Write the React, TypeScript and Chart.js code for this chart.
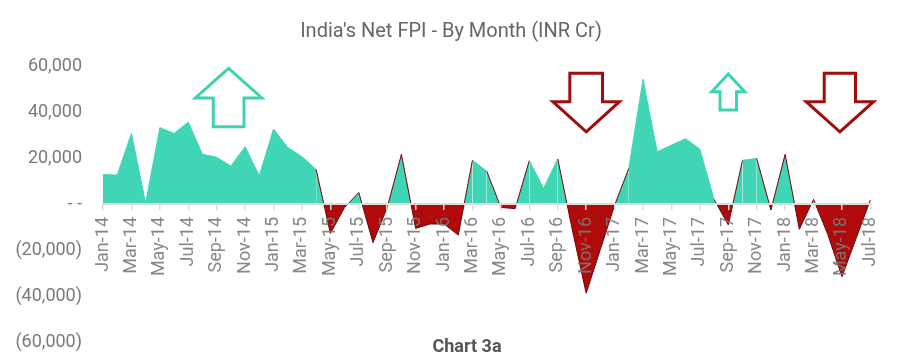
import React, { useEffect, useRef } from "react";
import { Chart, registerables } from "chart.js";

Chart.register(...registerables);

const months = [
  "Jan-14","Feb-14","Mar-14","Apr-14","May-14","Jun-14","Jul-14","Aug-14","Sep-14","Oct-14","Nov-14","Dec-14",
  "Jan-15","Feb-15","Mar-15","Apr-15","May-15","Jun-15","Jul-15","Aug-15","Sep-15","Oct-15","Nov-15","Dec-15",
  "Jan-16","Feb-16","Mar-16","Apr-16","May-16","Jun-16","Jul-16","Aug-16","Sep-16","Oct-16","Nov-16","Dec-16",
  "Jan-17","Feb-17","Mar-17","Apr-17","May-17","Jun-17","Jul-17","Aug-17","Sep-17","Oct-17","Nov-17","Dec-17",
  "Jan-18","Feb-18","Mar-18","Apr-18","May-18","Jun-18","Jul-18",
];

const netFPI = [
  12800, 12600, 30700, 300, 33200, 30700, 35600, 21600, 20300, 16500, 24900, 12300,
  32600, 24600, 20600, 15000, -12800, -1500, 5000, -16800, -1500, 21600, -10600, -8700,
  -8700, -13500, 19100, 14300, -1500, -2000, 18900, 6800, 19600, -10500, -38800, -19700,
  -500, 15500, 54200, 22700, 25600, 28400, 23800, 2000, -9100, 19000, 19800, -2600,
  21600, -11000, 2000, -13200, -31600, -14800, 1800,
];

const yTicks = [-60000, -40000, -20000, 0, 20000, 40000, 60000];

const titleText = "India's Net FPI - By Month (INR Cr)";
const captionText = "Chart 3a";

// Decorative block arrows, anchored in data space (category index / value)
const arrowCenters = [8.84, 34.0, 44.0, 51.85];
const arrowKinds = ["up", "down", "up", "down"];
const arrowTips = [59000, 31400, 56500, 31400];
const arrowHeadBases = [46100, 44500, 48800, 44500];
const arrowTails = [33600, 56800, 40900, 56800];
const arrowHeadHalf = [2.34, 2.34, 1.16, 2.37];
const arrowShaftHalf = [1.08, 1.15, 0.58, 1.1];

const TEAL = "#40D6B5";
const RED = "#B00A0A";
const TEAL_STROKE = "#3ED2B1";
const RED_STROKE = "#A00D0D";
const GRAY = "#7a7a7a";

function fmt(v: number): string {
  if (v === 0) return "- -";
  const s = Math.abs(v).toLocaleString("en-US");
  return v < 0 ? `(${s})` : s;
}

const textPlugin = {
  id: "texts",
  afterDraw(chart: any) {
    const ctx = chart.ctx;
    ctx.save();
    ctx.fillStyle = "#666666";
    ctx.font = "20px Roboto";
    ctx.textAlign = "center";
    ctx.textBaseline = "middle";
    ctx.fillText(titleText, 451, 32);
    ctx.fillStyle = "#555555";
    ctx.font = "bold 18px Roboto";
    ctx.fillText(captionText, 467, 347);
    ctx.restore();
  },
};

const arrowPlugin = {
  id: "arrows",
  afterDatasetsDraw(chart: any) {
    const { ctx } = chart;
    const xs = chart.scales.x;
    const ys = chart.scales.y;
    const unit = xs.getPixelForValue(1) - xs.getPixelForValue(0);
    ctx.save();
    for (let i = 0; i < arrowCenters.length; i++) {
      const cx = xs.getPixelForValue(0) + arrowCenters[i] * unit;
      const tip = ys.getPixelForValue(arrowTips[i]);
      const base = ys.getPixelForValue(arrowHeadBases[i]);
      const tail = ys.getPixelForValue(arrowTails[i]);
      const hh = arrowHeadHalf[i] * unit;
      const sh = arrowShaftHalf[i] * unit;
      ctx.beginPath();
      ctx.moveTo(cx, tip);
      ctx.lineTo(cx + hh, base);
      ctx.lineTo(cx + sh, base);
      ctx.lineTo(cx + sh, tail);
      ctx.lineTo(cx - sh, tail);
      ctx.lineTo(cx - sh, base);
      ctx.lineTo(cx - hh, base);
      ctx.closePath();
      ctx.fillStyle = "#ffffff";
      ctx.fill();
      ctx.lineWidth = 3;
      ctx.lineJoin = "miter";
      ctx.strokeStyle = arrowKinds[i] === "up" ? TEAL_STROKE : RED_STROKE;
      ctx.stroke();
    }
    ctx.restore();
  },
};

export default function App() {
  const ref = useRef<HTMLCanvasElement | null>(null);

  useEffect(() => {
    if (!ref.current) return;
    const chart = new Chart(ref.current, {
      type: "line",
      data: {
        labels: months,
        datasets: [
          {
            data: netFPI,
            fill: { target: "origin", above: TEAL, below: RED },
            borderWidth: 1,
            pointRadius: 0,
            tension: 0,
            segment: {
              borderColor: (c: any) =>
                c.p0.parsed.y >= 0 && c.p1.parsed.y >= 0 ? TEAL : "#6e0505",
            },
            borderColor: TEAL,
          } as any,
        ],
      },
      options: {
        responsive: false,
        animation: false,
        events: [],
        layout: { padding: { left: 0, right: 23, top: 66, bottom: 22 } },
        plugins: {
          legend: { display: false },
          title: { display: false },
          tooltip: { enabled: false },
        },
        scales: {
          x: {
            type: "category",
            position: { y: 0 } as any,
            offset: false,
            grid: {
              display: true,
              drawOnChartArea: false,
              drawTicks: true,
              tickLength: 5,
              lineWidth: 1.5,
              color: "#dcdcdc",
              z: 1,
              tickColor: (c: any) => (c.index % 2 === 0 ? "#dcdcdc" : "rgba(0,0,0,0)"),
            } as any,
            border: { display: true, color: "#dcdcdc", width: 2, z: 1 } as any,
            ticks: {
              autoSkip: false,
              minRotation: 90,
              maxRotation: 90,
              padding: 8,
              z: 1,
              color: "rgba(122,122,122,0.9)",
              font: { family: "Roboto", size: 18 },
              callback: (_v: any, i: number) => (i % 2 === 0 ? months[i] : ""),
            } as any,
          },
          y: {
            min: -60000,
            max: 60000,
            afterBuildTicks: (s: any) => {
              s.ticks = yTicks.map((v) => ({ value: v }));
            },
            afterFit: (s: any) => {
              s.width = 103;
            },
            grid: { display: false, drawTicks: true, tickLength: 18 },
            border: { display: false },
            ticks: {
              padding: 3,
              color: GRAY,
              font: { family: "Roboto", size: 18 },
              callback: (v: any) => fmt(Number(v)),
            },
          },
        },
      },
      plugins: [arrowPlugin, textPlugin],
    });
    return () => chart.destroy();
  }, []);

  return (
    <div style={{ position: "absolute", left: 0, top: 0, width: 900, height: 364, background: "#fff" }}>
      <canvas ref={ref} width={900} height={364} />
    </div>
  );
}
